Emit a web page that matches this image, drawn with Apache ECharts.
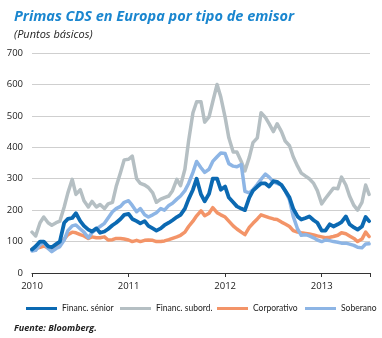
<!DOCTYPE html>
<html><head><meta charset="utf-8">
<script src="https://cdn.jsdelivr.net/npm/echarts@6/dist/echarts.min.js"></script>
<style>html,body{margin:0;padding:0;background:#fff}#c{width:382px;height:338px}</style>
</head><body><div id="c"></div>
<script>
// Semi-monthly observation dates (1st and 15th of each month), Jan 2010 - Jun 2013
var dates = [];
(function(){ for (var y=2010;y<=2013;y++){ for (var m=1;m<=12;m++){ if (y===2013 && m>6) break; var mm=(m<10?'0':'')+m; dates.push(y+'-'+mm+'-01'); dates.push(y+'-'+mm+'-15'); } } dates.push('2013-06-28'); })();

var yTicks = [0,100,200,300,400,500,600,700];
var xYears = [2010,2011,2012,2013];
var legendNames = ['Financ. sénior','Financ. subord.','Corporativo','Soberano'];

var finSenior = [75,85, 100,100, 85,82, 92,100, 160,172, 175,190, 165,150, 138,132, 142,128, 132,140, 152,160, 172,185,
  188,172, 165,158, 165,150, 142,135, 142,152, 160,168, 178,185, 205,235, 265,300, 250,228, 252,300, 300,265,
  275,240, 225,212, 205,200, 240,262, 275,285, 285,275, 292,290, 280,262, 240,205, 180,170, 175,180, 168,160,
  135,135, 155,148, 155,162, 180,155, 145,138, 148,178, 165];
var finSubord = [130,118, 160,178, 160,152, 160,165, 210,255, 298,250, 265,230, 210,228, 210,218, 205,220, 225,275, 320,360,
  362,372, 300,285, 280,272, 255,225, 235,240, 245,262, 298,278, 330,420, 510,545, 545,480, 497,545, 600,560,
  495,430, 385,385, 355,325, 368,415, 430,510, 495,475, 450,475, 450,420, 405,370, 340,318, 308,300, 285,262,
  220,237, 255,270, 268,305, 280,245, 215,200, 225,280, 250];
var corporativo = [76,78, 82,86, 80,75, 82,90, 108,122, 130,128, 122,118, 110,115, 112,112, 115,105, 106,110, 110,108,
  105,100, 104,100, 104,105, 104,100, 100,102, 106,110, 115,120, 130,148, 165,182, 198,182, 190,208, 192,185,
  178,165, 150,140, 130,122, 145,158, 172,185, 180,176, 172,170, 162,156, 148,135, 130,128, 126,124, 121,118,
  115,112, 114,116, 120,128, 125,118, 110,100, 108,130, 116];
var soberano = [70,72, 90,98, 78,68, 78,84, 105,135, 150,153, 140,130, 112,128, 140,148, 158,175, 195,205, 212,225,
  230,215, 195,205, 185,178, 185,192, 205,200, 215,222, 235,245, 262,285, 320,355, 335,320, 330,355, 370,382,
  380,348, 340,338, 345,260, 255,265, 282,298, 315,305, 290,285, 280,262, 232,180, 140,120, 122,118, 112,105,
  100,105, 103,100, 98,95, 95,92, 88,82, 80,92, 93];

function toYear(d){ var p=d.split('-'); var y=+p[0], m=+p[1]-1, day=+p[2]; return y + (m + (day-1)/30.5)/12; }
function pairs(vals){ return vals.map(function(v,i){ return [toYear(dates[i]), v]; }); }

var chart = echarts.init(document.getElementById('c'), null, {renderer:'canvas'});
var FONT = 'Open Sans';
var LFONT = 'Lato';
var mk = function(name, vals, color, w){ return {name:name, type:'line', data:pairs(vals), showSymbol:false, symbol:'none',
  lineStyle:{color:color, width:w, join:'round', cap:'round'}, itemStyle:{color:color}, animation:false}; };
var legendLefts = [21, 115, 212, 300];
chart.setOption({
  animation:false,
  title:[
    {text:'Primas CDS en Europa por tipo de emisor', left:9, top:4,
     textStyle:{fontFamily:FONT, fontSize:14.5, fontStyle:'italic', fontWeight:'bold', color:'#1a86cf'}},
    {text:'(Puntos básicos)', left:9, top:24,
     textStyle:{fontFamily:FONT, fontSize:11, fontStyle:'italic', fontWeight:'normal', color:'#222'}},
    {text:'{b|Fuente:}{n| Bloomberg.}', left:9, top:319,
     textStyle:{rich:{b:{fontFamily:FONT, fontSize:9, fontStyle:'italic', fontWeight:'bold', color:'#222'},
                      n:{fontFamily:FONT, fontSize:9, fontStyle:'italic', color:'#222'}}}}
  ],
  grid:{left:32, right:12, top:53, bottom:65, containLabel:false},
  xAxis:{type:'value', min:xYears[0], max:2013.5, interval:1,
    axisLine:{show:true, lineStyle:{color:'#333', width:1}},
    axisTick:{show:true, inside:false, length:4, lineStyle:{color:'#333'}},
    axisLabel:{fontFamily:FONT, fontSize:9.5, color:'#222', margin:8,
      formatter:function(v){ return xYears.indexOf(v)>=0 ? String(v) : ''; }},
    splitLine:{show:false}},
  yAxis:{type:'value', min:yTicks[0], max:yTicks[yTicks.length-1], interval:100,
    axisLine:{show:false}, axisTick:{show:false},
    axisLabel:{fontFamily:FONT, fontSize:9.5, color:'#222', margin:9},
    splitLine:{lineStyle:{color:'#cfcfcf', width:1}}},
  legend: legendNames.map(function(n,i){ return {data:[n], left:legendLefts[i], top:299,
    itemWidth:31, itemHeight:3, itemGap:0, icon:'rect', selectedMode:false,
    textStyle:{fontFamily:LFONT, fontSize:8.5, color:'#222'}}; }),
  series:[
    mk('Financ. subord.', finSubord, '#b5bfc3', 3.5),
    mk('Corporativo', corporativo, '#f39468', 3.5),
    mk('Soberano', soberano, '#8db5e5', 3.5),
    mk('Financ. sénior', finSenior, '#0b69b2', 3.8)
  ]
});
</script></body></html>
